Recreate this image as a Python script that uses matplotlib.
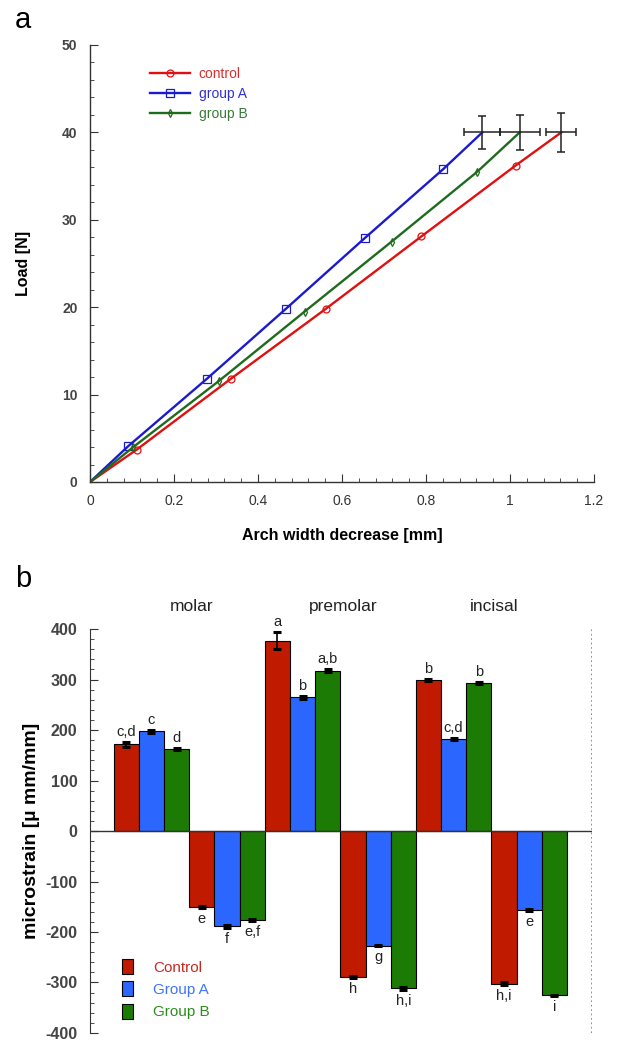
import matplotlib.pyplot as plt
from matplotlib.patches import Patch
from matplotlib.ticker import MultipleLocator

plt.rcParams['font.family'] = ['Liberation Sans', 'DejaVu Sans']
plt.rcParams['axes.unicode_minus'] = False

# panel a: load vs arch width decrease
ctrl_x = [0, 0.111, 0.335, 0.561, 0.789, 1.013, 1.122]
ctrl_y = [0, 3.7, 11.8, 19.8, 28.1, 36.2, 40]
grpA_x = [0, 0.091, 0.278, 0.466, 0.654, 0.841, 0.934]
grpA_y = [0, 4.1, 11.8, 19.8, 27.9, 35.8, 40]
grpB_x = [0, 0.103, 0.308, 0.511, 0.718, 0.922, 1.023]
grpB_y = [0, 4.0, 11.6, 19.5, 27.5, 35.5, 40]
line_names = ["control", "group A", "group B"]
end_xerr = [0.036, 0.043, 0.048]
end_yerr = [2.2, 1.9, 2.0]

# panel b: microstrain bars
regions = ["molar", "premolar", "incisal"]
bar_groups = ["Control", "Group A", "Group B"]
control_vals = [172, -150, 377, -290, 300, -302]
groupA_vals = [198, -189, 265, -227, 183, -156]
groupB_vals = [163, -177, 317, -311, 294, -325]
control_err = [5, 2, 17, 2, 2, 3]
groupA_err = [3, 3, 3, 1, 2, 2]
groupB_err = [2, 2, 3, 3, 2, 1]
control_letters = ["c,d", "e", "a", "h", "b", "h,i"]
groupA_letters = ["c", "f", "b", "g", "c,d", "e"]
groupB_letters = ["d", "e,f", "a,b", "h,i", "b", "i"]

fig = plt.figure(figsize=(6.34, 10.41), dpi=100)

# ---------- panel a ----------
ax1 = fig.add_axes([0.142, 0.537, 0.795, 0.4198])
line_cols = ['#E01010', '#1A1AD0', '#1E6B1E']
txt_cols = ['#D83030', '#3030D0', '#3A7A3A']
markers = ['o', 's', 'd']
msizes = [5, 6, 4]
xs = [ctrl_x, grpA_x, grpB_x]
ys = [ctrl_y, grpA_y, grpB_y]
for i in range(3):
    ax1.plot(xs[i], ys[i], color=line_cols[i], lw=1.7, marker=markers[i],
             ms=msizes[i], mfc='none', mec=line_cols[i], mew=0.9,
             markevery=list(range(1, len(xs[i]) - 1)), label=line_names[i])
    ax1.errorbar(xs[i][-1], ys[i][-1], xerr=end_xerr[i], yerr=end_yerr[i],
                 fmt='none', ecolor='#222222', elinewidth=1.1, capsize=3, capthick=1.1)

ax1.set_xlim(0, 1.2)
ax1.set_ylim(0, 50)
ax1.xaxis.set_major_locator(MultipleLocator(0.2))
ax1.xaxis.set_minor_locator(MultipleLocator(0.04))
ax1.yaxis.set_major_locator(MultipleLocator(10))
ax1.yaxis.set_minor_locator(MultipleLocator(2))
ax1.set_xticks([0, 0.2, 0.4, 0.6, 0.8, 1.0, 1.2])
ax1.set_xticklabels(["0", "0.2", "0.4", "0.6", "0.8", "1", "1.2"])
ax1.spines['top'].set_visible(False)
ax1.spines['right'].set_visible(False)
for s in ['left', 'bottom']:
    ax1.spines[s].set_color('#333333')
    ax1.spines[s].set_linewidth(1.0)
ax1.tick_params(which='both', direction='in', colors='#333333', labelcolor='#333333')
ax1.tick_params(which='major', length=6, labelsize=10, pad=9)
ax1.tick_params(which='minor', length=3)
for t in ax1.get_yticklabels():
    t.set_fontweight('bold')
    t.set_color('#444444')
ax1.set_xlabel("Arch width decrease [mm]", fontsize=11.5, fontweight='bold', labelpad=14)
ax1.set_ylabel("Load [N]", fontsize=11.5, fontweight='bold', labelpad=22)
leg = ax1.legend(loc='upper left', bbox_to_anchor=(0.119, 0.95), frameon=False,
                 fontsize=10, handlelength=2.9, handletextpad=0.6, labelspacing=0.45,
                 borderpad=0, borderaxespad=0)
for t, c in zip(leg.get_texts(), txt_cols):
    t.set_color(c)

# ---------- panel b ----------
ax2 = fig.add_axes([0.142, 0.0077, 0.792, 0.388])
bar_cols = ['#C01A00', '#2B66FF', '#1B7B05']
leg_cols = ['#C8281E', '#3F74FF', '#2E8B20']
vals = [control_vals, groupA_vals, groupB_vals]
errs = [control_err, groupA_err, groupB_err]
letters = [control_letters, groupA_letters, groupB_letters]
for j in range(3):
    pos = [3 * k + j for k in range(6)]
    ax2.bar(pos, vals[j], width=1.0, color=bar_cols[j], edgecolor='black', lw=0.8,
            yerr=errs[j], error_kw=dict(ecolor='black', elinewidth=1.2, capsize=3, capthick=2.2),
            label=bar_groups[j], zorder=2)
    for p, v, e, lab in zip(pos, vals[j], errs[j], letters[j]):
        if v > 0:
            ax2.text(p, v + e + 6, lab, ha='center', va='bottom', fontsize=10.5, color='#222222')
        else:
            ax2.text(p, v - e - 8, lab, ha='center', va='top', fontsize=10.5, color='#222222')

for k, name in enumerate(regions):
    ax2.text(6 * k + 2.6, 445, name, ha='center', va='center', fontsize=12.5, color='#222222')

ax2.set_xlim(-1.44, 18.5)
ax2.set_ylim(-400, 400)
ax2.axhline(0, color='#333333', lw=1.0, zorder=3)
ax2.axvline(18.5, color='#4E9A4E', lw=1.2, ls=':', zorder=1)
ax2.set_xticks([])
ax2.yaxis.set_major_locator(MultipleLocator(100))
ax2.yaxis.set_minor_locator(MultipleLocator(20))
for s in ['top', 'right', 'bottom']:
    ax2.spines[s].set_visible(False)
ax2.spines['left'].set_color('#333333')
ax2.tick_params(which='both', direction='in', colors='#333333', labelcolor='#333333')
ax2.tick_params(which='major', length=6, labelsize=11.5, pad=9)
ax2.tick_params(which='minor', length=3)
for t in ax2.get_yticklabels():
    t.set_fontweight('bold')
    t.set_color('#444444')
ax2.set_ylabel("microstrain [µ mm/mm]", fontsize=14, fontweight='bold', labelpad=4)
handles = [Patch(facecolor=c, edgecolor='black', lw=0.8) for c in bar_cols]
leg2 = ax2.legend(handles, bar_groups, loc='upper left', bbox_to_anchor=(0.064, 0.183),
                  frameon=False, fontsize=11, handlelength=0.72, handleheight=1.1,
                  handletextpad=1.3, labelspacing=0.45, borderpad=0, borderaxespad=0)
for t, c in zip(leg2.get_texts(), leg_cols):
    t.set_color(c)

fig.text(15 / 634, 1 - 20 / 1041, "a", fontsize=21, va='center', ha='left')
fig.text(15 / 634, 1 - 579 / 1041, "b", fontsize=21, va='center', ha='left')

fig.savefig("out.png", dpi=100)
